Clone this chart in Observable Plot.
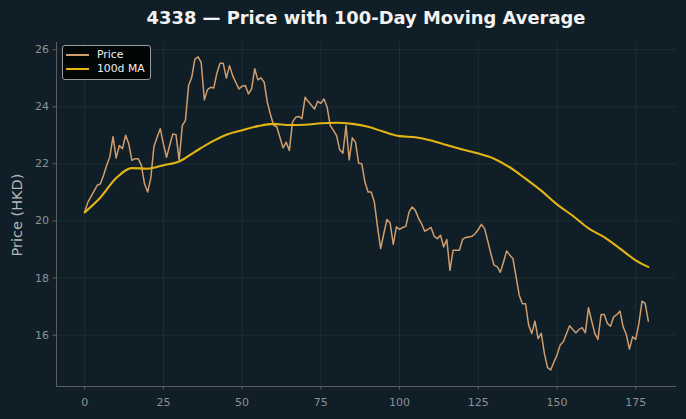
<!DOCTYPE html>
<html>
<head>
<meta charset="utf-8">
<script src="https://cdn.jsdelivr.net/npm/d3@7"></script>
<script src="https://cdn.jsdelivr.net/npm/@observablehq/plot@0.6"></script>
<style>
  html, body { margin: 0; padding: 0; background: #101f27; }
  #wrap { position: relative; width: 686px; height: 419px; background: #101f27; font-family: "DejaVu Sans", sans-serif; }
  #title { position: absolute; left: 46px; width: 640px; top: 7px; text-align: center; color: #f2f2f2; font-weight: bold; font-size: 17.9px; font-family: "DejaVu Sans", sans-serif; }
  #ylabel { position: absolute; left: 17px; top: 215px; transform: translate(-50%, -50%) rotate(-90deg); white-space: nowrap; color: #b3b8bb; font-size: 14.5px; font-family: "DejaVu Sans", sans-serif; }
  #chart { position: absolute; left: 0; top: 36px; }
  #chart svg text { font-family: "DejaVu Sans", sans-serif; }
  #legend { position: absolute; left: 62px; top: 45px; width: 89px; height: 35px; background: #030606; border: 1px solid #9a9c9e; border-radius: 3px; box-sizing: border-box; font-family: "DejaVu Sans", sans-serif; }
  .swatch { position: absolute; left: 3px; width: 23px; height: 0; }
  .label { position: absolute; left: 34px; color: #eeeeee; font-size: 10.8px; line-height: 12px; white-space: nowrap; }
</style>
</head>
<body>
<div id="wrap">
  <div id="title">4338 — Price with 100-Day Moving Average</div>
  <div id="ylabel">Price (HKD)</div>
  <div id="chart"></div>
  <div id="legend">
    <span class="swatch" style="top:8px; border-top:2px solid #cf9d6e"></span>
    <span class="label" style="top:3px">Price</span>
    <span class="swatch" style="top:22px; border-top:2px solid #e2b515"></span>
    <span class="label" style="top:17px">100d MA</span>
  </div>
</div>
<script>
// Daily closing price (HKD), day index 0..179
const priceClose = [
  20.31, 20.65, 20.85, 21.05, 21.25, 21.30, 21.60, 21.95, 22.25, 22.95,
  22.20, 22.64, 22.53, 23.00, 22.70, 22.12, 22.18, 22.18, 21.95, 21.30,
  21.01, 21.50, 22.61, 22.93, 23.23, 22.70, 22.23, 22.65, 23.05, 23.02,
  22.12, 23.34, 23.52, 24.74, 25.03, 25.67, 25.75, 25.55, 24.24, 24.60,
  24.68, 24.66, 25.18, 25.52, 25.52, 25.00, 25.44, 25.09, 24.85, 24.62,
  24.72, 24.74, 24.45, 24.62, 25.33, 24.94, 25.01, 24.86, 24.16, 23.73,
  23.35, 23.30, 22.93, 22.56, 22.76, 22.47, 23.46, 23.63, 23.66, 23.58,
  24.33, 24.18, 24.05, 23.92, 24.19, 24.12, 24.27, 23.98, 23.34, 23.17,
  22.99, 22.49, 22.37, 23.34, 22.14, 22.91, 22.76, 22.02, 22.00, 21.36,
  21.01, 21.01, 20.66, 19.79, 19.03, 19.56, 20.05, 19.93, 19.18, 19.79,
  19.70, 19.77, 19.81, 20.31, 20.49, 20.37, 20.10, 19.90, 19.64, 19.70,
  19.77, 19.46, 19.38, 19.50, 19.09, 19.35, 18.27, 18.97, 18.97, 18.97,
  19.35, 19.42, 19.44, 19.46, 19.55, 19.70, 19.88, 19.73, 19.30, 18.85,
  18.45, 18.40, 18.20, 18.55, 18.95, 18.80, 18.68, 18.05, 17.40, 17.10,
  17.10, 16.35, 16.06, 16.49, 15.88, 16.06, 15.35, 14.86, 14.78, 15.05,
  15.30, 15.65, 15.77, 16.05, 16.33, 16.20, 16.08, 16.20, 16.26, 16.08,
  16.96, 16.50, 16.06, 15.85, 16.72, 16.72, 16.41, 16.31, 16.64, 16.72,
  16.84, 16.29, 16.03, 15.51, 15.94, 15.85, 16.40, 17.19, 17.11, 16.49
];

// 100-day moving average, sampled every 5 days (plus the final day)
const maDay = [0, 5, 10, 15, 20, 25, 30, 35, 40, 45, 50, 55, 60, 65, 70, 75, 80, 85, 90,
  95, 100, 105, 110, 115, 120, 125, 130, 135, 140, 145, 150, 155, 160, 165, 170, 175, 179];
const maValue = [20.30, 20.82, 21.50, 21.85, 21.83, 21.95, 22.08, 22.42, 22.75, 23.02,
  23.18, 23.32, 23.40, 23.36, 23.37, 23.42, 23.44, 23.40, 23.30, 23.12,
  22.97, 22.93, 22.82, 22.66, 22.50, 22.36, 22.18, 21.88, 21.48, 21.06,
  20.58, 20.18, 19.74, 19.43, 19.03, 18.62, 18.39];

const xTicks = [0, 25, 50, 75, 100, 125, 150, 175];
const yTicks = [16, 18, 20, 22, 24, 26];

const priceRows = priceClose.map((v, i) => ({day: i, price: v}));
const maRows = maDay.map((d, i) => ({day: d, ma: maValue[i]}));

const gridColor = "rgba(255,255,255,0.06)";
const axisColor = "#5a5d60";
const tickText = "#8c9194";

const chart = Plot.plot({
  width: 686,
  height: 383,
  marginTop: 6,
  marginLeft: 56,
  marginRight: 10,
  marginBottom: 33,
  style: {background: "transparent", fontFamily: "'DejaVu Sans', sans-serif", fontSize: "11px", color: tickText},
  x: {domain: [-8.95, 187.95], label: null},
  y: {domain: [14.2, 26.25], label: null},
  marks: [
    Plot.gridX(xTicks, {stroke: gridColor, strokeOpacity: 1}),
    Plot.gridY(yTicks, {stroke: gridColor, strokeOpacity: 1}),
    Plot.axisX({ticks: xTicks, tickSize: 3.5, tickPadding: 8, stroke: axisColor, fill: tickText, fontSize: 11, label: null}),
    Plot.axisY({ticks: yTicks, tickSize: 3.5, tickPadding: 4, stroke: axisColor, fill: tickText, fontSize: 11, label: null}),
    Plot.ruleX([-8.95], {stroke: axisColor, strokeWidth: 1}),
    Plot.ruleY([14.2], {stroke: axisColor, strokeWidth: 1}),
    Plot.lineY(priceRows, {x: "day", y: "price", stroke: "#cf9d6e", strokeWidth: 1.5}),
    Plot.lineY(maRows, {x: "day", y: "ma", stroke: "#e2b515", strokeWidth: 2.1, curve: "monotone-x"})
  ]
});

document.getElementById("chart").appendChild(chart);
</script>
</body>
</html>
